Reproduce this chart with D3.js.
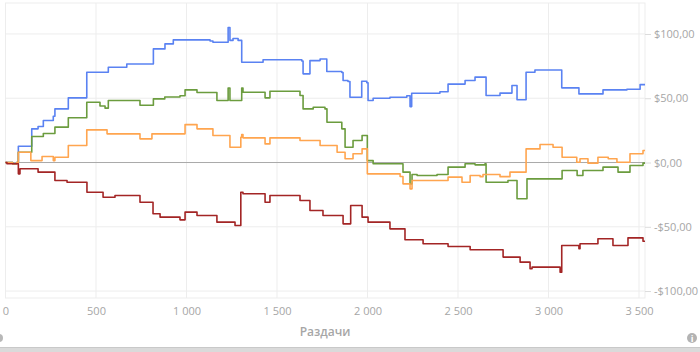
<!DOCTYPE html>
<html>
<head>
<meta charset="utf-8">
<script src="https://cdn.jsdelivr.net/npm/d3@7"></script>
<style>
  html, body { margin: 0; padding: 0; background: #fff; }
  svg { display: block; font-family: "Open Sans", "Noto Sans", sans-serif; }
</style>
</head>
<body>
<div id="container"></div>
<script>
/* DATA: [hand, winnings $] breakpoints, step after */
const blueSeries = [[0,0],[40,-1],[62,0],[71,12.7],[145,26.2],[180,28],[209,32.7],[264,36],[273,41.7],[347,50.3],[449,70.2],[568,74.1],[670,76.7],[817,88.4],[881,92.3],[927,95.4],[1130,94.5],[1146,93.6],[1224,93.6],[1230,105],[1240,95],[1257,96.5],[1285,95],[1305,78],[1423,80],[1611,80],[1637,79],[1644,69],[1682,79.3],[1738,80.5],[1775,70.8],[1858,70],[1865,63.8],[1892,63],[1903,50.8],[1968,63.2],[1996,62],[2003,48.2],[2031,50],[2124,50.8],[2217,52],[2235,43.5],[2244,53.9],[2400,55],[2445,61],[2539,63.8],[2594,66.4],[2655,52.1],[2732,54],[2798,59.9],[2826,48.8],[2876,70.2],[2925,72],[3073,58.1],[3168,53.4],[3301,56.5],[3433,57],[3506,60.6],[3533,60.6]];
const greenSeries = [[0,0],[40,-1],[62,0],[71,8],[145,20.2],[209,22.6],[273,27.5],[347,34.8],[449,46.9],[522,44],[550,42.3],[568,48.2],[743,44.6],[817,49.5],[880,51],[964,52],[992,56.5],[1058,54.5],[1130,54.5],[1168,48.2],[1230,58],[1240,48.2],[1285,48.2],[1305,58],[1312,54.7],[1434,50.3],[1461,55.5],[1627,52.1],[1644,41.7],[1700,43],[1765,41.7],[1776,31.3],[1858,26.2],[1876,11.9],[1920,17.1],[1970,21],[1999,1.5],[2031,-1],[2196,-7.5],[2235,-16.6],[2246,-9.3],[2274,-10.1],[2384,-9.3],[2445,-3.6],[2539,-1],[2594,-1.8],[2649,-1],[2655,-15.3],[2776,-14],[2826,-28.2],[2881,-12.7],[3075,-6.2],[3158,-10.1],[3190,-6.2],[3301,-3.6],[3384,-7.5],[3450,-2.3],[3522,-0.5],[3533,-0.5]];
const orangeSeries = [[0,0],[40,-1],[62,0],[71,8],[140,1.5],[202,4.7],[264,1.5],[273,4.1],[347,13.2],[449,25.4],[561,22.3],[743,18.4],[809,22.3],[992,29.5],[1058,26.2],[1146,21],[1240,11.9],[1300,19.7],[1305,21.8],[1312,19.2],[1434,14.5],[1461,19.2],[1627,17.1],[1738,13.2],[1832,8],[1876,2.9],[1920,6.8],[1970,10.6],[1999,-8.8],[2180,-10.9],[2196,-16.6],[2235,-20.5],[2246,-14],[2445,-11.4],[2522,-15.3],[2567,-10.1],[2622,-11],[2638,-9.3],[2732,-11],[2787,-7.5],[2876,10.6],[2953,14],[3025,11.9],[3075,4.1],[3156,0.2],[3174,2.9],[3218,-0.5],[3273,4.1],[3330,2.9],[3378,0.2],[3450,6.8],[3522,9.3],[3533,9.3]];
const redSeries = [[0,0],[8,-1],[71,-8.8],[80,-4.9],[180,-7.5],[273,-14],[340,-15.3],[450,-23.1],[539,-27],[605,-25.7],[743,-30.9],[815,-39.9],[854,-42.5],[964,-44.6],[992,-38.6],[1058,-41.2],[1168,-46.4],[1268,-49],[1300,-23.1],[1312,-24.3],[1434,-30.9],[1461,-25.7],[1627,-29.5],[1682,-37.3],[1754,-41.2],[1865,-47.7],[1907,-33.4],[1970,-42.5],[2003,-46.4],[2124,-51.6],[2207,-60.1],[2307,-63.2],[2445,-65.3],[2567,-67.9],[2749,-73.6],[2843,-77.5],[2898,-82.7],[2909,-81.4],[3064,-85.3],[3073,-64.5],[3168,-67],[3174,-63.2],[3273,-59.3],[3356,-64.5],[3439,-58.6],[3522,-61.2],[3533,-61.2]];

const xTicks = [0, 500, 1000, 1500, 2000, 2500, 3000, 3500];
const yTicks = [100, 50, 0, -50, -100];
const xLabel = "Раздачи";

const series = [
  { data: blueSeries, color: "#5a82f2" },
  { data: greenSeries, color: "#6b9c3e" },
  { data: orangeSeries, color: "#ffa54f" },
  { data: redSeries, color: "#a32525" }
];

/* CONSTANTS */
const width = 700, height = 352,
  plot = { left: 5.5, right: 645, top: 3, bottom: 298 };

/* SCALES */
const xScale = d3.scaleLinear()
  .domain([0, 3533])
  .range([plot.left, plot.right]);

const yScale = d3.scaleLinear()
  .domain([-105.4, 124.1])
  .range([plot.bottom, plot.top]);

/* SVG */
const svg = d3.select("#container")
  .append("svg")
  .attr("width", width)
  .attr("height", height);

// plot frame
svg.append("rect")
  .attr("x", plot.left).attr("y", plot.top)
  .attr("width", plot.right - plot.left).attr("height", plot.bottom - plot.top)
  .attr("fill", "none").attr("stroke", "#ededed");

// grid
svg.append("g")
  .selectAll("line")
  .data(xTicks)
  .join("line")
  .attr("x1", d => xScale(d)).attr("x2", d => xScale(d))
  .attr("y1", plot.top).attr("y2", plot.bottom)
  .attr("stroke", "#ededed");

svg.append("g")
  .selectAll("line")
  .data(yTicks.filter(d => d !== 0))
  .join("line")
  .attr("x1", plot.left).attr("x2", plot.right)
  .attr("y1", d => yScale(d)).attr("y2", d => yScale(d))
  .attr("stroke", "#ededed");

// right axis
const fmt = d => (d < 0 ? "-$" : "$") + Math.abs(d) + ",00";
const yAxis = d3.axisRight(yScale)
  .tickValues(yTicks)
  .tickSize(6)
  .tickPadding(3)
  .tickFormat(fmt);
const yg = svg.append("g")
  .attr("transform", `translate(${plot.right},0)`)
  .call(yAxis);
yg.select(".domain").remove();
yg.selectAll(".tick line").attr("stroke", "#dcdcdc");
yg.selectAll(".tick text")
  .attr("fill", "#a6a6a6")
  .style("font-size", "11px")
  .style("font-family", "'Open Sans', sans-serif");

// bottom axis labels
const xAxis = d3.axisBottom(xScale)
  .tickValues(xTicks)
  .tickSize(0)
  .tickPadding(9)
  .tickFormat(d => d3.format(",")(d).replace(",", " "));
const xg = svg.append("g")
  .attr("transform", `translate(0,${plot.bottom})`)
  .call(xAxis);
xg.select(".domain").remove();
xg.selectAll(".tick text")
  .attr("fill", "#a6a6a6")
  .style("font-size", "11px")
  .style("font-family", "'Open Sans', sans-serif");

svg.append("text")
  .attr("x", 325).attr("y", 336)
  .attr("text-anchor", "middle")
  .attr("fill", "#a6a6a6")
  .style("font-size", "12px")
  .style("font-weight", "600")
  .text(xLabel);

// zero line
svg.append("line")
  .attr("x1", plot.left).attr("x2", plot.right)
  .attr("y1", yScale(0)).attr("y2", yScale(0))
  .attr("stroke", "#a9a9a9").attr("stroke-width", 1);

// lines
const line = d3.line()
  .x(d => xScale(d[0]))
  .y(d => yScale(d[1]))
  .curve(d3.curveStepAfter);

svg.append("g")
  .selectAll("path")
  .data(series)
  .join("path")
  .attr("d", d => line(d.data))
  .attr("fill", "none")
  .attr("stroke", d => d.color)
  .attr("stroke-width", 1.6)
  .attr("stroke-linejoin", "round");

// bottom bar
svg.append("rect")
  .attr("x", 0).attr("y", 347).attr("width", width).attr("height", 5)
  .attr("fill", "#dadada");
svg.append("line")
  .attr("x1", 0).attr("x2", width).attr("y1", 347.5).attr("y2", 347.5)
  .attr("stroke", "#c9c9c9");

// info icon
svg.append("circle").attr("cx", 692).attr("cy", 338).attr("r", 5).attr("fill", "#b3b3b3");
svg.append("text").attr("x", 692).attr("y", 341.5).attr("text-anchor", "middle")
  .attr("fill", "#fff").style("font-size", "9px").style("font-weight", "700").text("i");

// cut-off icon at left edge
svg.append("circle").attr("cx", -1).attr("cy", 338).attr("r", 4).attr("fill", "#b8b8b8");
</script>
</body>
</html>
